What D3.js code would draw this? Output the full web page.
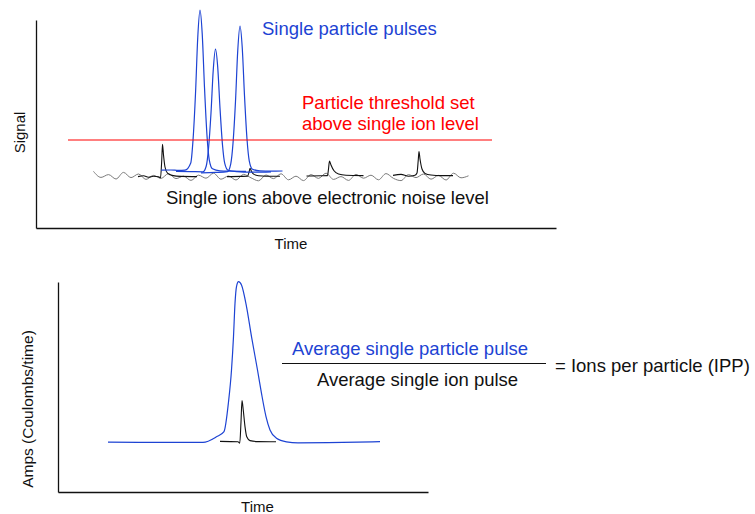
<!DOCTYPE html>
<html>
<head>
<meta charset="utf-8">
<script src="https://cdn.jsdelivr.net/npm/d3@7"></script>
<style>
  body { margin: 0; background: #fff; }
  svg { display: block; font-family: Arial, "Liberation Sans", sans-serif; }
</style>
</head>
<body>
<svg id="chart" width="755" height="514"></svg>
<script>
// ---- top panel: raw signal vs time (arbitrary units) ----
const noiseTrace = [[11.5,28.3],[13,25.3],[14.5,26.7],[16,24.5],[17.5,27.8],[19,25.2],[20.5,27.0],[22,24.3],
  [23.5,26.3],[25,24.8],[26.5,27.2],[28,24.7],[29.5,25.9],[31,23.8],[32.5,26.4],[34,24.9],[35.5,27.4],
  [37,24.4],[38.5,26.0],[40,24.0],[41.5,26.8],[43,25.1],[44.5,23.6],[46,26.5],[47.5,24.7],[49,27.1],
  [50.5,24.1],[52,25.9],[53.5,23.7],[55,26.7],[56.5,24.8],[58,27.4],[59.5,24.3],[61,25.7],[62.5,23.8],
  [64,26.8],[65.5,24.9],[67,26.4],[68.5,24.1],[70,27.2],[71.5,24.8],[73,23.7],[74.5,26.7],[76,25.2],
  [77.5,27.0],[79,24.4],[80.5,26.3],[82,24.0],[83.5,27.4],[85,25.1],[86.5,26.1]];

const particlePulse1 = [[25,28.9],[27,29],[28.5,28.8],[29.8,28.9],[30.95,32.5],[31.4,43.8],[31.9,67.1],[32.35,95.2],
  [32.8,108.9],[33.25,96.8],[33.7,70.3],[34.2,46.2],[34.65,34.1],[35.3,29.6],[36.8,28.6],[39,28.4],[42,28.3]];
const particlePulse2 = [[28,28.3],[31,28.2],[33.4,28.1],[34.05,31],[34.5,39.7],[35,57.5],[35.45,79],[35.9,89.4],
  [36.35,80.2],[36.8,60],[37.3,41.5],[37.75,32.3],[38.4,28.9],[40.2,28.2],[43,27.9],[47,28.1]];
const particlePulse3 = [[33,27.6],[36,27.8],[38.3,28.2],[38.95,32.1],[39.4,42.3],[39.9,63.3],[40.35,88.7],[40.8,101],
  [41.25,90.1],[41.7,66.2],[42.2,44.5],[42.65,33.6],[43.3,29.4],[44.8,28.6],[47,28.4],[49.3,28.5]];

const ionPulse1 = [[20.4,25.7],[21.5,26.1],[22.5,25.4],[23.5,25.9],[24.5,25.6],[24.9,25.1],[25.15,34],[25.3,41.9],
  [25.5,36.5],[25.8,30.5],[26.3,27.4],[27.2,26.3],[29,25.8],[32.2,25.7]];
const ionPulse2 = [[38.2,25.7],[41,25.8],[42.3,25.9],[42.6,27.8],[42.8,29.9],[43.1,28.3],[43.6,26.8],[44.5,26.1],
  [46,25.9],[48.8,25.9]];
const ionPulse3 = [[54.1,26],[57,26.1],[58.3,26.2],[58.5,29.5],[58.7,33.5],[59,31.5],[59.6,28.6],[60.5,27],
  [62,26.4],[65.5,26.2]];
const ionPulse4 = [[71.4,26.3],[73,26.8],[74.5,25.9],[75.8,26.4],[76.2,27.5],[76.45,34],[76.6,38.2],[76.8,34.5],
  [77.2,29.5],[77.8,27.3],[79,26.5],[81,26.2],[83.4,26.2]];

const thresholdLevel = 44;
const thresholdSpan = [6.4, 91.2];

// ---- bottom panel: averaged pulses ----
const avgParticlePulse = [[10,24.9],[20,24.8],[27,24.8],[29,24.8],[31.7,27.6],[33.2,30.2],[34.1,45],[34.7,61],
  [35.1,77.7],[35.4,94.3],[35.7,102.7],[36.1,105.2],[36.7,103.5],[37.7,92.7],[38.7,77.7],[39.9,61],[40.7,49.3],
  [41.6,37.7],[42.4,31],[43.7,26.9],[45.7,25.1],[48,24.6],[54,24.7],[64.4,25.2]];
const avgIonPulse = [[32.4,25.3],[36,25.1],[36.35,24.4],[36.6,35],[36.8,45.7],[37.05,41],[37.4,32.7],[37.75,27.6],
  [38.4,25.7],[40,25.2],[43.6,25.1]];

const blue = "#1d43d3", red = "#ff0000", ink = "#111";
const svg = d3.select("#chart");

const xTop = d3.scaleLinear().domain([0, 104]).range([36, 556]);
const yTop = d3.scaleLinear().domain([0, 104]).range([228, 20]);
const xBot = d3.scaleLinear().domain([0, 74]).range([58, 428]);
const yBot = d3.scaleLinear().domain([0, 105]).range([492, 282]);

function drawAxes(x, y) {
  const g = svg.append("g");
  g.append("g").attr("transform", `translate(0,${y.range()[0]})`)
    .call(d3.axisBottom(x).tickValues([]).tickSizeOuter(0));
  g.append("g").attr("transform", `translate(${x.range()[0]},0)`)
    .call(d3.axisLeft(y).tickValues([]).tickSizeOuter(0));
  g.selectAll(".domain").attr("stroke", ink).attr("stroke-width", 1.3);
}

function trace(data, x, y, color, width) {
  const line = d3.line().x(d => x(d[0])).y(d => y(d[1])).curve(d3.curveMonotoneX);
  svg.append("path").datum(data)
    .attr("d", line).attr("fill", "none")
    .attr("stroke", color).attr("stroke-width", width)
    .attr("stroke-linejoin", "round");
}

function label(txt, x, y, opts) {
  opts = opts || {};
  const t = svg.append("text").text(txt)
    .attr("x", x).attr("y", y)
    .attr("font-size", opts.size || 18.5)
    .attr("fill", opts.color || ink)
    .attr("text-anchor", opts.anchor || "start");
  if (opts.rotate) {
    t.attr("x", 0).attr("y", 0).attr("transform", `translate(${x},${y}) rotate(-90)`);
  }
  return t;
}

// top panel
drawAxes(xTop, yTop);
trace(noiseTrace, xTop, yTop, "#7a7a7a", 1);
[ionPulse1, ionPulse2, ionPulse3, ionPulse4].forEach(d => trace(d, xTop, yTop, ink, 1.1));
[particlePulse1, particlePulse2, particlePulse3].forEach(d => trace(d, xTop, yTop, blue, 1.2));
svg.append("line")
  .attr("x1", xTop(thresholdSpan[0])).attr("x2", xTop(thresholdSpan[1]))
  .attr("y1", yTop(thresholdLevel)).attr("y2", yTop(thresholdLevel))
  .attr("stroke", red).attr("stroke-width", 1.2);

label("Single particle pulses", 262, 35, { color: blue });
label("Particle threshold set", 302, 109, { color: red });
label("above single ion level", 302, 130, { color: red });
label("Single ions above electronic noise level", 166, 204);
label("Time", 291, 249, { size: 15, anchor: "middle" });
label("Signal", 25, 132.5, { size: 15, anchor: "middle", rotate: true });

// bottom panel
drawAxes(xBot, yBot);
trace(avgIonPulse, xBot, yBot, ink, 1.1);
trace(avgParticlePulse, xBot, yBot, blue, 1.2);

label("Time", 257.5, 512, { size: 15, anchor: "middle" });
label("Amps (Coulombs/time)", 33, 409, { size: 15.5, anchor: "middle", rotate: true });

label("Average single particle pulse", 410, 355, { color: blue, anchor: "middle" });
svg.append("line").attr("x1", 282).attr("x2", 546).attr("y1", 363.5).attr("y2", 363.5)
  .attr("stroke", ink).attr("stroke-width", 1.2);
label("Average single ion pulse", 417.5, 386, { anchor: "middle" });
label("= Ions per particle (IPP)", 555, 371.5);
</script>
</body>
</html>
